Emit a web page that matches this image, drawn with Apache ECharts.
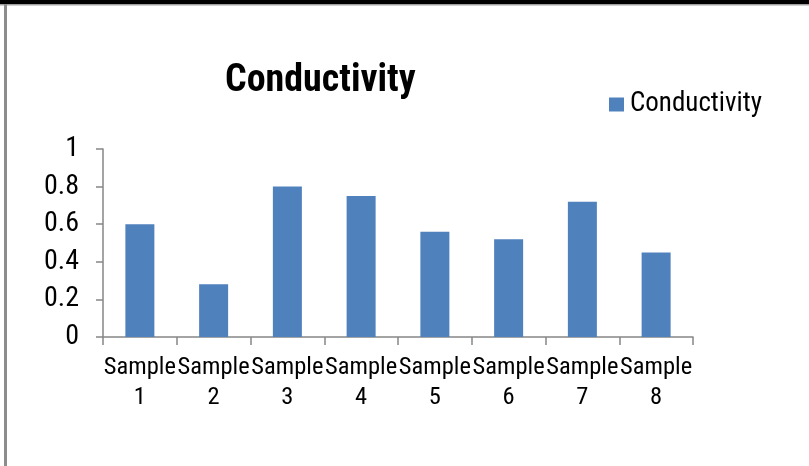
<!DOCTYPE html>
<html>
<head>
<meta charset="utf-8">
<script src="https://cdn.jsdelivr.net/npm/echarts@6/dist/echarts.min.js"></script>
<style>
html,body{margin:0;padding:0;background:#fff;}
#chart{width:809px;height:466px;}
</style>
</head>
<body>
<div id="chart"></div>
<script>
var categories = ['Sample\n1','Sample\n2','Sample\n3','Sample\n4','Sample\n5','Sample\n6','Sample\n7','Sample\n8'];
var conductivity = [0.6, 0.28, 0.8, 0.75, 0.56, 0.52, 0.72, 0.45];
var seriesName = 'Conductivity';
var titleText = 'Conductivity';

var FONT = '"Roboto Condensed", "Carlito", "Liberation Sans", sans-serif';
var chart = echarts.init(document.getElementById('chart'), null, {renderer: 'canvas'});
chart.setOption({
  backgroundColor: '#ffffff',
  animation: false,
  graphic: [
    {type: 'rect', shape: {x: 0, y: 0, width: 809, height: 4}, style: {fill: '#000000'}, z: 100},
    {type: 'rect', shape: {x: 0, y: 4, width: 809, height: 1.5}, style: {fill: '#a0a0a0'}, z: 100},
    {type: 'rect', shape: {x: 4, y: 4, width: 3, height: 462}, style: {fill: '#8c8c8c'}, z: 100}
  ],
  title: {
    text: titleText,
    left: 225,
    top: 62,
    padding: 0,
    textStyle: {fontFamily: FONT, fontWeight: 'bold', fontSize: 38, color: '#000'}
  },
  legend: {
    data: [seriesName],
    left: 609,
    top: 91,
    padding: 0,
    itemWidth: 15,
    itemHeight: 14,
    icon: 'rect',
    textStyle: {fontFamily: FONT, fontSize: 27, color: '#000', padding: [0,0,0,1]}
  },
  grid: {left: 103, right: 116, top: 149, bottom: 129, containLabel: false},
  xAxis: {
    type: 'category',
    data: categories,
    boundaryGap: true,
    axisLine: {lineStyle: {color: '#868686', width: 1.5}},
    axisTick: {show: true, length: 8, lineStyle: {color: '#868686', width: 1.5}},
    axisLabel: {fontFamily: FONT, fontSize: 24.5, color: '#000', margin: 16, lineHeight: 30, interval: 0}
  },
  yAxis: {
    type: 'value',
    min: 0,
    max: 1,
    interval: 0.2,
    splitLine: {show: false},
    axisLine: {show: true, lineStyle: {color: '#868686', width: 1.5}},
    axisTick: {show: true, length: 7, lineStyle: {color: '#868686', width: 1.5}},
    axisLabel: {fontFamily: FONT, fontSize: 28, color: '#000', margin: 24}
  },
  series: [{
    name: seriesName,
    type: 'bar',
    data: conductivity,
    barWidth: 29,
    itemStyle: {color: '#4F81BD'}
  }]
});
</script>
</body>
</html>
